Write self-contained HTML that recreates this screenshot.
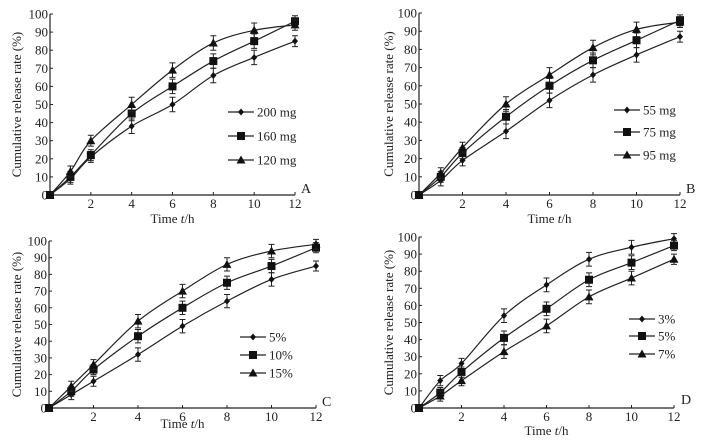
<!DOCTYPE html>
<html><head><meta charset="utf-8"><style>
html,body{margin:0;padding:0;background:#fff;}
svg{display:block;}
text{font-family:"Liberation Serif","Times New Roman",serif;}
</style></head><body>
<svg id="s" width="703" height="441" viewBox="0 0 703 441"></svg>
<script>
const times=[0,1,2,4,6,8,10,12];
const yTicks=[0,10,20,30,40,50,60,70,80,90,100];
const xTicks=[2,4,6,8,10,12];
const errs=[0,3,3,4,4,4,4,3];
const aNames=["200 mg","160 mg","120 mg"];
const aS1=[0,9,21,38,50,66,76,85];
const aS2=[0,10,22,45,60,74,85,96];
const aS3=[0,13,30,50,69,84,91,94];
const bNames=["55 mg","75 mg","95 mg"];
const bS1=[0,8,19,35,52,66,77,87];
const bS2=[0,10,23,43,60,74,85,96];
const bS3=[0,12,26,50,66,81,91,95];
const cNames=["5%","10%","15%"];
const cS1=[0,8,16,32,49,64,77,85];
const cS2=[0,10,23,43,60,75,85,96];
const cS3=[0,13,26,52,70,86,94,98];
const dNames=["3%","5%","7%"];
const dS1=[0,16,26,54,72,87,94,99];
const dS2=[0,9,21,41,58,75,85,95];
const dS3=[0,7,16,33,48,65,76,87];

const panels=[
 {id:"a",L:"A",x0:50,x1:295,y0:195,y1:14,names:aNames,series:[aS1,aS2,aS3],lx:228,ly:[112,136,160],lab:[301,193],xt:223,yt:17},
 {id:"b",L:"B",x0:419,x1:680,y0:195,y1:13,names:bNames,series:[bS1,bS2,bS3],lx:614,ly:[110,132,155],lab:[686,193],xt:223,yt:389},
 {id:"c",L:"C",x0:49,x1:316,y0:408,y1:241,names:cNames,series:[cS1,cS2,cS3],lx:240,ly:[337,355,373],lab:[322,406],xt:428,yt:17},
 {id:"d",L:"D",x0:419,x1:674,y0:408,y1:237,names:dNames,series:[dS1,dS2,dS3],lx:629,ly:[319,336,354],lab:[681,404],xt:435,yt:389}
];
const NS="http://www.w3.org/2000/svg";
const svg=document.getElementById('s');
const FF='"Liberation Serif", serif';
function mk(t,a,p){const e=document.createElementNS(NS,t);for(const k in a)e.setAttribute(k,a[k]);(p||svg).appendChild(e);return e;}
function marker(g,k,x,y){
 if(k===0)return mk('path',{d:`M${x} ${y-3.5}L${x+3} ${y}L${x} ${y+3.5}L${x-3} ${y}Z`,fill:'#111'},g);
 if(k===1)return mk('rect',{x:x-4,y:y-4,width:8,height:8,fill:'#111'},g);
 return mk('path',{d:`M${x} ${y-4.5}L${x+4.5} ${y+3.5}L${x-4.5} ${y+3.5}Z`,fill:'#111'},g);
}
panels.forEach(P=>{
 const sx=v=>P.x0+(P.x1-P.x0)*v/12, sy=v=>P.y0+(P.y1-P.y0)*v/100;
 const g=mk('g',{});
 
 
 const ax=mk('path',{d:`M${P.x0} ${P.y1}V${P.y0}H${P.x1}`,stroke:'#222','stroke-width':1.2,fill:'none'},g);
 
 
 yTicks.forEach(v=>{
  mk('line',{x1:P.x0,x2:P.x0+3,y1:sy(v),y2:sy(v),stroke:'#222'},g);
  const t=mk('text',{x:P.x0-2,y:sy(v)+4.5,'text-anchor':'end','font-size':13,'font-family':FF,fill:'#222'},g);t.textContent=v;
  
  
 });
 xTicks.forEach(v=>{
  mk('line',{x1:sx(v),x2:sx(v),y1:P.y0,y2:P.y0-3,stroke:'#222'},g);
  const t=mk('text',{x:sx(v),y:P.y0+13,'text-anchor':'middle','font-size':13,'font-family':FF,fill:'#222'},g);t.textContent=v;
  
  
 });
 const xt=mk('text',{x:(P.x0+P.x1)/2,y:P.xt,'text-anchor':'middle','font-size':13,'font-family':FF,fill:'#222'},g);
 xt.innerHTML='Time <tspan font-style="italic">t</tspan>/h';
 
 
 const cy=(P.y0+P.y1)/2;
 const yt=mk('text',{x:P.yt,y:cy,'text-anchor':'middle','font-size':13,'font-family':FF,fill:'#222',transform:`rotate(-90 ${P.yt} ${cy})`,dy:4},g);
 yt.textContent='Cumulative release rate (%)';
 
 
 const lb=mk('text',{x:P.lab[0],y:P.lab[1],'font-size':14,'font-family':FF,fill:'#222'},g);lb.textContent=P.L;
 
 
 P.series.forEach((s,k)=>{
  const pts=times.map((t,i)=>[sx(t),sy(s[i])]);
  let d=`M${pts[0][0]} ${pts[0][1]}`;
  for(let i=0;i<pts.length-1;i++){
   const p0=pts[Math.max(0,i-1)],p1=pts[i],p2=pts[i+1],p3=pts[Math.min(pts.length-1,i+2)];
   d+=`C${p1[0]+(p2[0]-p0[0])/6} ${p1[1]+(p2[1]-p0[1])/6} ${p2[0]-(p3[0]-p1[0])/6} ${p2[1]-(p3[1]-p1[1])/6} ${p2[0]} ${p2[1]}`;
  }
  const ln=mk('path',{d:d,stroke:'#222','stroke-width':1.2,fill:'none'},g);
  
  
  pts.forEach((p,i)=>{
   if(errs[i]>0){
    const a=sy(s[i]+errs[i]),b=sy(s[i]-errs[i]);
    mk('path',{d:`M${p[0]} ${a}V${b}M${p[0]-3} ${a}H${p[0]+3}M${p[0]-3} ${b}H${p[0]+3}`,stroke:'#222','stroke-width':1},g);
   }
   const m=marker(g,k,p[0],p[1]);
   
   
  });
  const ly=P.ly[k];
  const le=mk('g',{},g);
  
  
  mk('line',{x1:P.lx,x2:P.lx+26,y1:ly,y2:ly,stroke:'#222','stroke-width':1.2},le);
  marker(le,k,P.lx+13,ly);
  const tt=mk('text',{x:P.lx+29,y:ly+4.5,'font-size':13,'font-family':FF,fill:'#222'},le);tt.textContent=P.names[k];
 });
});
</script>
</body></html>
